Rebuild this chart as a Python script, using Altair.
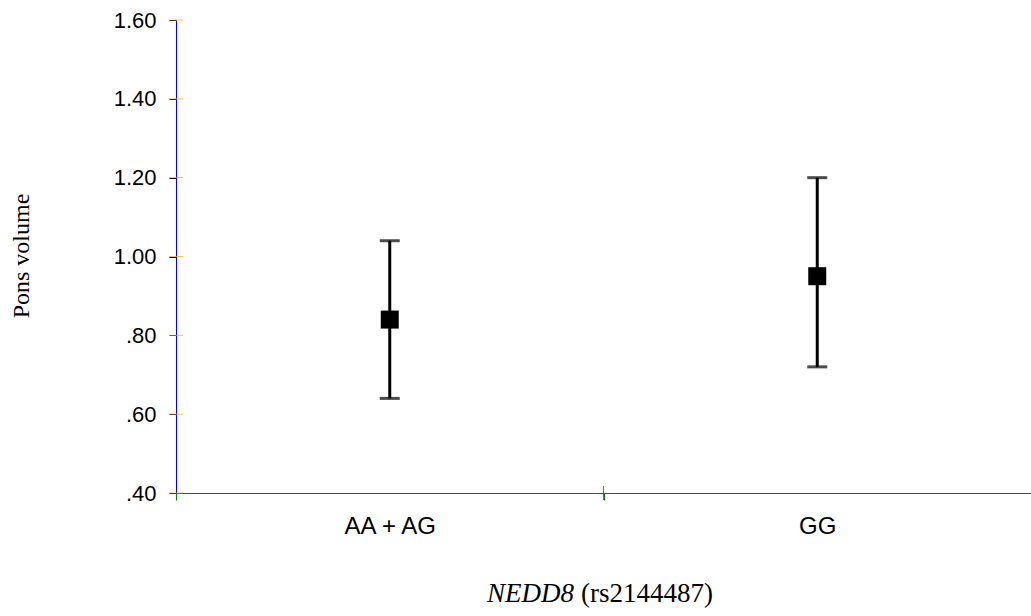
import altair as alt
import pandas as pd

categories = ["AA + AG", "GG"]
means = [0.84, 0.95]
lowers = [0.64, 0.72]
uppers = [1.04, 1.20]
y_ticks = [0.4, 0.6, 0.8, 1.0, 1.2, 1.4, 1.6]

df = pd.DataFrame({"cat": categories, "mean": means, "lo": lowers, "hi": uppers})
tick_df = pd.DataFrame({"v": y_ticks})

W, H = 855, 473

x_scale = alt.Scale(domain=categories, paddingInner=0, paddingOuter=0)
x_axis = alt.Axis(title=None, tickBand="extent", tickSize=7, tickColor="green",
                  domainColor="red", labelFont="Liberation Sans", labelFontSize=24,
                  labelColor="black", labelPadding=14, labelAngle=0, grid=False)
y_scale = alt.Scale(domain=[0.4, 1.6], nice=False, zero=False)
y_axis = alt.Axis(title=None, values=y_ticks, tickSize=7, tickColor="black", domainColor="blue",
                  labelFont="Liberation Sans", labelFontSize=22, labelColor="black",
                  labelPadding=13, grid=False,
                  labelExpr="datum.value < 1 ? replace(format(datum.value, '.2f'), '0.', '.') : format(datum.value, '.2f')")

X = lambda f: alt.X(f, scale=x_scale, axis=x_axis)
Y = lambda f: alt.Y(f, scale=y_scale, axis=y_axis)

base = alt.Chart(df)

rules = base.mark_rule(color="black", strokeWidth=3).encode(
    x=X("cat:N"), y=Y("lo:Q"), y2="hi:Q")
cap_lo = base.mark_tick(color="black", thickness=3, size=20, orient="horizontal").encode(
    x=X("cat:N"), y=Y("lo:Q"))
cap_hi = base.mark_tick(color="black", thickness=3, size=20, orient="horizontal").encode(
    x=X("cat:N"), y=Y("hi:Q"))
pts = base.mark_point(shape="square", filled=True, color="black", size=324, opacity=1).encode(
    x=X("cat:N"), y=Y("mean:Q"))

inner_y = alt.Chart(tick_df).mark_tick(color="orange", thickness=1, size=14, orient="horizontal").encode(
    y=Y("v:Q"), x=alt.value(0))
inner_x = alt.Chart(pd.DataFrame({"cat": ["GG"]})).mark_tick(
    color="purple", thickness=1, size=14, orient="vertical").encode(
    x=alt.X("cat:N", bandPosition=0, scale=x_scale, axis=x_axis), y=alt.value(H))

ytitle = alt.Chart(pd.DataFrame({"t": ["Pons volume"]})).mark_text(
    font="Liberation Serif", fontSize=24, angle=270, color="black", align="center", baseline="middle"
).encode(text="t:N", x=alt.value(-154), y=alt.value(236))

XT = 398
TY = 582
xt1 = alt.Chart(pd.DataFrame({"t": ["NEDD8"]})).mark_text(
    font="Liberation Serif", fontSize=27, fontStyle="italic", color="black", align="right", baseline="alphabetic"
).encode(text="t:N", x=alt.value(XT), y=alt.value(TY))
xt2 = alt.Chart(pd.DataFrame({"t": ["(rs2144487)"]})).mark_text(
    font="Liberation Serif", fontSize=27, color="black", align="left", baseline="alphabetic"
).encode(text="t:N", x=alt.value(XT + 7), y=alt.value(TY))

chart = alt.layer(rules, cap_lo, cap_hi, pts, inner_y, inner_x, ytitle, xt1, xt2).properties(
    width=W, height=H, background="white",
    autosize=alt.AutoSizeParams(type="none"),
    padding={"left": 176, "top": 20, "right": 0, "bottom": 123},
).configure_view(stroke="transparent", strokeWidth=0).configure_axis(grid=False)

chart.save("out.html", embed_options={"renderer": "svg", "actions": False})
